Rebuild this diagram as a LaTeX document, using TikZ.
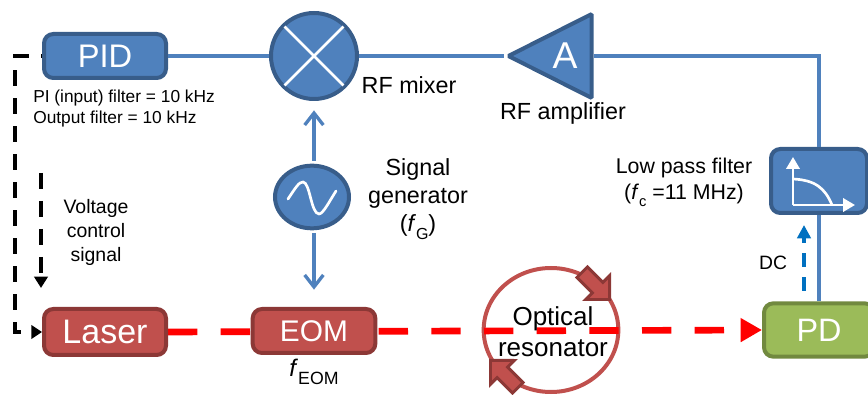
\documentclass[tikz,border=0pt]{standalone}
\usepackage{fontspec}
\setmainfont{Liberation Sans}
\usetikzlibrary{arrows.meta,positioning,calc,shapes.geometric,shapes.arrows}
\pgfdeclarelayer{background}
\pgfsetlayers{background,main}
\definecolor{bluefill}{HTML}{4F81BD}
\definecolor{blueedge}{HTML}{385D8A}
\definecolor{redfill}{HTML}{C0504D}
\definecolor{rededge}{HTML}{8C3836}
\definecolor{greenfill}{HTML}{9BBB59}
\definecolor{greenedge}{HTML}{71893F}
\definecolor{dcblue}{HTML}{0070C0}
\newcommand{\lowsub}[2]{\raisebox{-0.32em}{\fontsize{#1}{#1}\selectfont #2}}
\begin{document}
\begin{tikzpicture}[
x=0.75pt,
y=-0.75pt,
box/.style={
	draw,
	line width=3pt,
	rounded corners=7pt,
	inner sep=0pt,
	text=white,
	minimum width=91.5pt,
	minimum height=33pt
},
bluebox/.style={
	box,
	draw=blueedge,
	fill=bluefill
},
redbox/.style={
	box,
	draw=rededge,
	fill=redfill
},
greenbox/.style={
	box,
	draw=greenedge,
	fill=greenfill
},
bluecircle/.style={
	ellipse,
	draw=blueedge,
	fill=bluefill,
	line width=3pt,
	inner sep=0pt
},
signal/.style={
	line width=2.5pt,
	draw=bluefill
},
barb/.style={
	signal,
	-{Straight Barb[length=9pt,width=14pt]}
},
control/.style={
	line width=2.6pt,
	dash pattern=on 12pt off 9pt
},
laserbeam/.style={
	line width=5pt,
	draw=red,
	dash pattern=on 22pt off 17.5pt,
	-{Triangle[length=16pt,width=17pt]}
},
ringarrow/.style={
	single arrow,
	draw=rededge,
	fill=redfill,
	line width=2.2pt,
	inner xsep=0pt,
	inner ysep=4.5pt,
	minimum height=29pt,
	single arrow tip angle=90,
	single arrow head extend=7pt
},
icon/.style={
	white,
	line width=2pt
},
label/.style={
	inner sep=0pt,
	align=center,
	font=\fontsize{17.5}{21}\selectfont
},
small/.style={
	inner sep=0pt,
	align=left,
	font=\fontsize{13}{15.8}\selectfont
},
mid/.style={
	inner sep=0pt,
	align=center,
	font=\fontsize{16}{19.5}\selectfont
}
]
\useasboundingbox (0,0) rectangle (868,395);
% boxes
\node[bluebox,font=\fontsize{24.5}{28}\selectfont] (pid) at (105,56) {PID};
\node[redbox,minimum height=34.5pt,font=\fontsize{25.5}{28}\selectfont] (laser) at (105,332) {Laser};
\node[redbox,minimum width=92pt,font=\fontsize{22.4}{26}\selectfont] (eom) at (314,331) {EOM};
\node[bluebox,minimum width=72pt,minimum height=48pt] (filter) at (819,181) {};
\node[greenbox,minimum width=82.5pt,minimum height=40pt,font=\fontsize{24.3}{28}\selectfont] (pd) at (819,330) {PD};
\node[bluecircle,minimum width=64.5pt,minimum height=64.5pt] (mixer) at (314,56) {};
\node[bluecircle,minimum width=55.5pt,minimum height=47pt] (gen) at (312,197) {};
\node[isosceles triangle,isosceles triangle apex angle=54,isosceles triangle stretches,
	shape border rotate=180,draw=blueedge,fill=bluefill,line width=3pt,rounded corners=1pt,
	inner sep=0pt,minimum width=63pt,minimum height=62.5pt,anchor=apex] (amp) at (504,56) {};
\node[text=white,inner sep=0pt,font=\fontsize{28}{32}\selectfont] (ampname) at (565,56) {A};

% icons
\draw[icon,shorten <=2.5pt,shorten >=2.5pt] (mixer.45) -- (mixer.225);
\draw[icon,shorten <=2.5pt,shorten >=2.5pt] (mixer.135) -- (mixer.315);
\draw[icon,line cap=round] (288,199) .. controls (296,187) and (299,182) .. (303,182)
	.. controls (310,182) and (311,214) .. (319,214)
	.. controls (323,214) and (329,202) .. (336,191);
\coordinate (axis) at (793,205);
\draw[icon,-{Triangle[length=9pt,width=10pt]}] (axis) -- (793,157);
\draw[icon,-{Triangle[length=9pt,width=10pt]}] (axis) -- (855,205);
\draw[icon] (793,179) .. controls (815,180) and (825,188) .. (832,205);

% connectors
\draw[signal] (pid) -- (mixer);
\draw[signal] (mixer) -- (amp.apex);
\draw[signal] (amp.lower side) -| (filter.north);
\draw[signal] (pd.north) -- (filter.south);
\draw[barb,shorten <=2pt,shorten >=7pt] (mixer.south |- gen.north) -- (mixer.south);
\draw[barb,shorten <=2pt,shorten >=13pt] (eom.north |- gen.south) -- (eom.north);

\coordinate (dcstart) at (804,291);
\coordinate (dcend) at (804,225);
\draw[line width=2.5pt,dcblue,dash pattern=on 10.5pt off 7.5pt,-{Triangle[length=10pt,width=10pt]}] (dcstart) -- (dcend);

\draw[control,dash phase=-10pt,-{Triangle[length=8pt,width=10pt]}] (pid.west) -| ($(laser.west)+(-27,0)$) -- (laser.west);
\coordinate (volttop) at (41,173);
\coordinate (voltend) at (41,288);
\draw[control,-{Triangle[length=8.5pt,width=10pt]}] (volttop) -- (voltend);

% resonator
\begin{pgfonlayer}{background}
\node[ellipse,draw=redfill,line width=3pt,inner sep=0pt,minimum width=101pt,minimum height=93pt] (ring) at (551,330) {};
\draw[laserbeam] (laser.east) -- (pd.west);
\end{pgfonlayer}
\node[ringarrow,rotate=-45,anchor=tip] (ringin) at (611,301) {};
\node[ringarrow,rotate=135,anchor=tip] (ringout) at (489,359) {};

% labels
\node[label,font=\fontsize{19.5}{23}\selectfont] (optical) at (553,331.5) {Optical\\resonator};
\node[small,anchor=north west] (pidnote) at (33,90) {PI (input) filter = 10 kHz\\Output filter = 10 kHz};
\node[label] (mixername) at (409,85) {RF mixer};
\node[label] (ampnote) at (563,113) {RF amplifier};
\node[label] (gennote) at (418,199) {Signal\\generator\\(\textit{f}\lowsub{12}{G})};
\node[mid] (filternote) at (684,182) {Low pass filter\\(\textit{f}\lowsub{11}{c} =11 MHz)};
\node[mid,font=\fontsize{14.5}{18}\selectfont] (dcname) at (773,263) {DC};
\node[font=\fontsize{14.6}{18}\selectfont,align=center,inner sep=0pt] (voltnote) at (96,232.5) {Voltage\\control\\signal};
\node[font=\fontsize{18}{20}\selectfont,inner sep=0pt] (eomnote) at (314,372) {\textit{f}\lowsub{13.3}{EOM}};
\end{tikzpicture}
\end{document}
